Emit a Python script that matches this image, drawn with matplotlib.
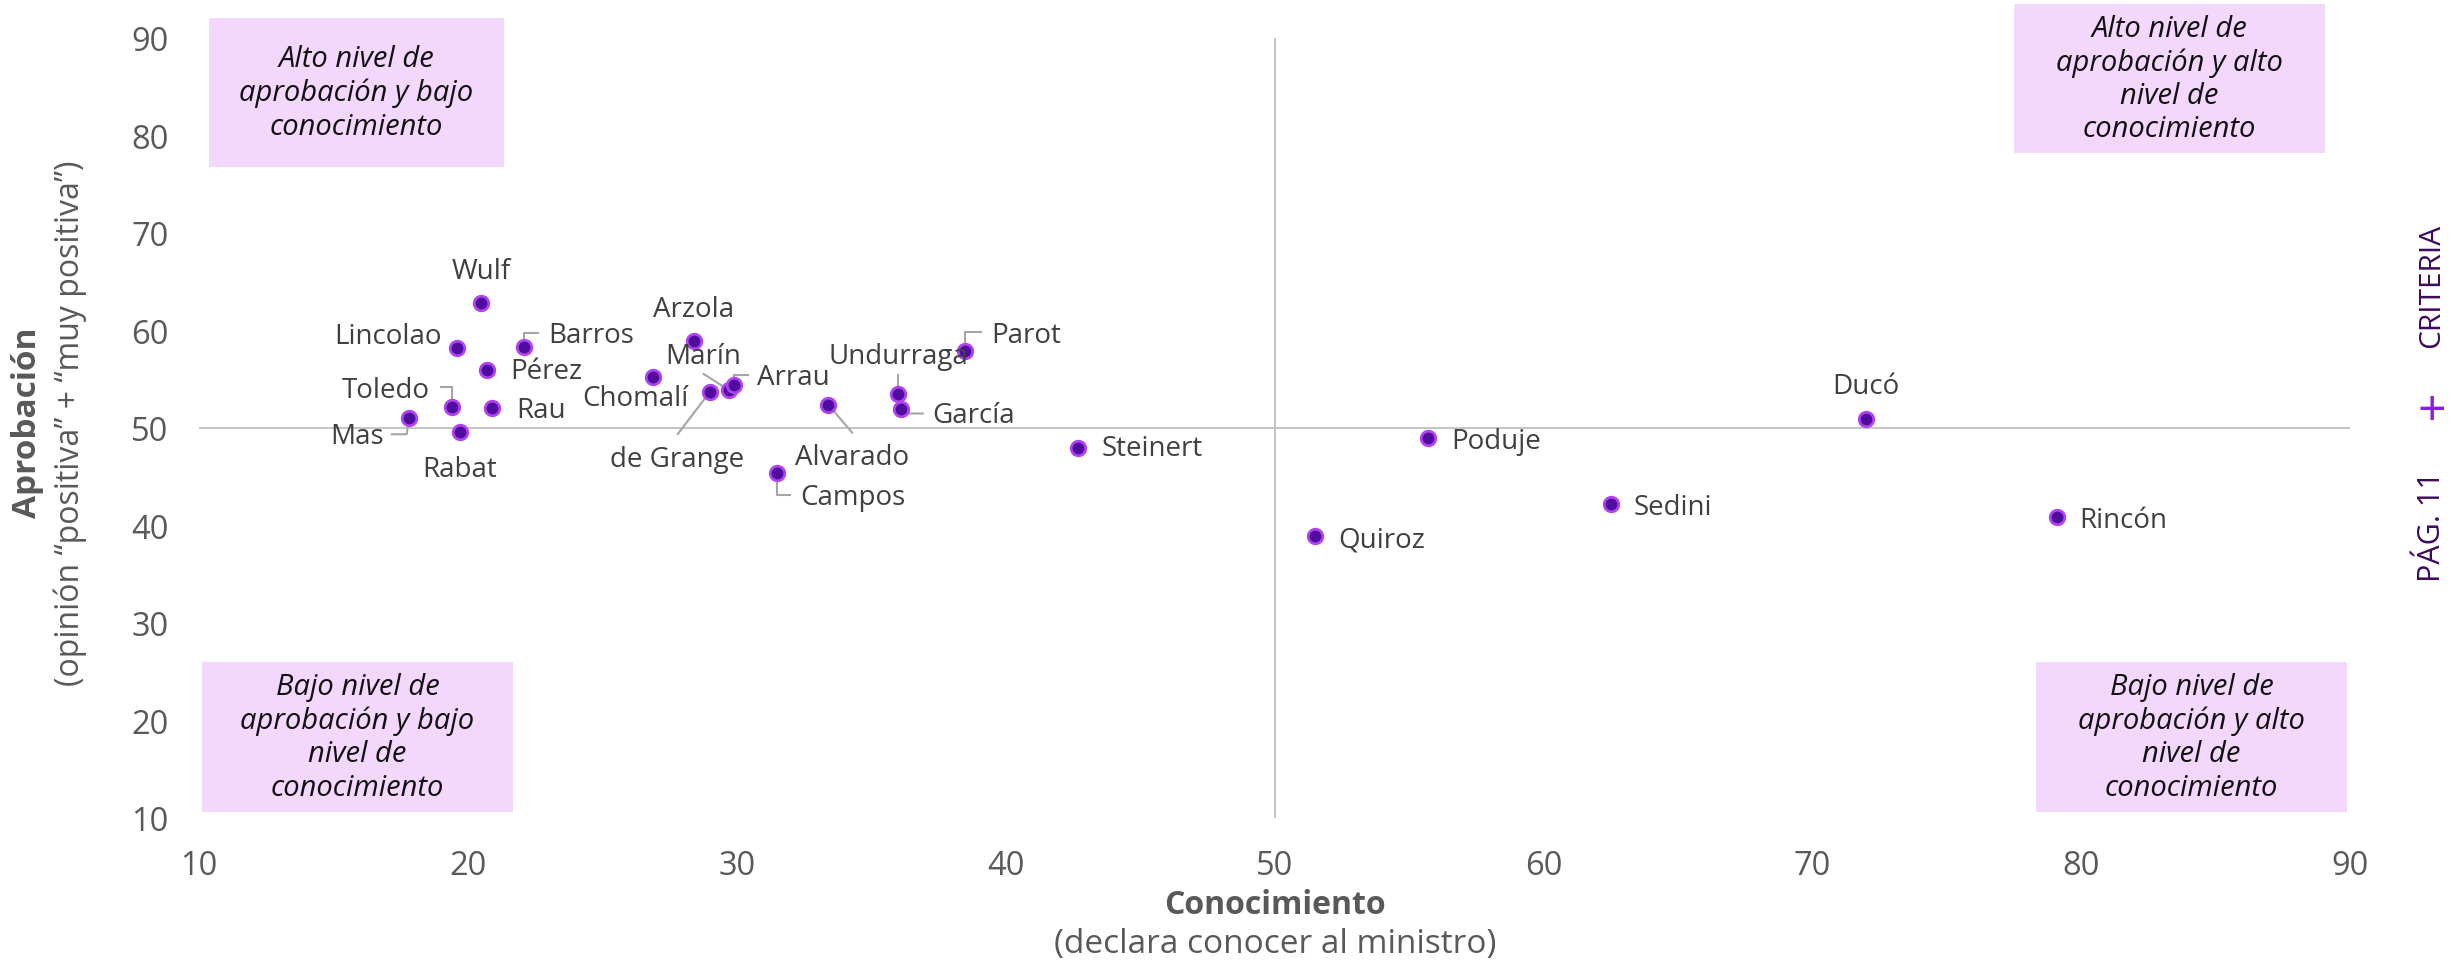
import numpy as np
import matplotlib.pyplot as plt
from matplotlib.patches import Rectangle
from matplotlib.transforms import IdentityTransform

plt.rcParams['font.family'] = ['Open Sans', 'DejaVu Sans']

# datos: conocimiento (x) y aprobación (y) por ministro
ministros = ["Wulf", "Lincolao", "Barros", "Pérez", "Toledo", "Rau", "Mas", "Rabat",
             "Arzola", "Chomalí", "Marín", "Arrau", "de Grange", "Alvarado", "Campos",
             "Undurraga", "García", "Parot", "Steinert", "Quiroz", "Poduje", "Sedini",
             "Ducó", "Rincón"]
conocimiento = [20.5, 19.6, 22.1, 20.7, 19.4, 20.9, 17.8, 19.7,
                28.4, 26.9, 29.7, 29.9, 29.0, 33.4, 31.5,
                36.0, 36.1, 38.5, 42.7, 51.5, 55.7, 62.5,
                72.0, 79.1]
aprobacion = [62.8, 58.2, 58.3, 56.0, 52.2, 52.1, 51.0, 49.6,
              58.9, 55.2, 53.9, 54.4, 53.7, 52.4, 45.4,
              53.5, 52.0, 57.9, 48.0, 38.9, 49.0, 42.2,
              50.9, 40.9]

x_ticks = [10, 20, 30, 40, 50, 60, 70, 80, 90]
y_ticks = [10, 20, 30, 40, 50, 60, 70, 80, 90]

# posicion de etiquetas (pixeles, y hacia abajo) y lineas guia
etiquetas = {
    "Wulf": (0, -32, "center", None),
    "Lincolao": (-15, -12, "right", None),
    "Barros": (24, -12, "left", [(0, 0), (0, -14), (14, -14)]),
    "Pérez": (24, 2, "left", None),
    "Toledo": (-22, -17, "right", [(0, 0), (0, -20), (-11, -20)]),
    "Rau": (24, 2, "left", None),
    "Mas": (-25, 18, "right", [(0, 0), (-2, 16), (-17, 16)]),
    "Rabat": (0, 37, "center", None),
    "Arzola": (0, -32, "center", None),
    "Chomalí": (-18, 21, "center", None),
    "Marín": (-25, -34, "center", [(0, 0), (-25, -16)]),
    "Arrau": (23, -8, "left", [(0, 0), (0, -10), (14, -10)]),
    "de Grange": (-33, 67, "center", [(0, 0), (-32, 42)]),
    "Alvarado": (24, 52, "center", [(0, 0), (24, 28)]),
    "Campos": (23, 24, "left", [(0, 0), (0, 22), (13, 22)]),
    "Undurraga": (0, -38, "center", [(0, 0), (0, -19)]),
    "García": (31, 7, "left", [(0, 0), (8, 5), (22, 5)]),
    "Parot": (26, -16, "left", [(0, 0), (0, -19), (16, -19)]),
    "Steinert": (23, 1, "left", None),
    "Quiroz": (23, 3, "left", None),
    "Poduje": (23, 3, "left", None),
    "Sedini": (23, 3, "left", None),
    "Ducó": (0, -33, "center", None),
    "Rincón": (22, 3, "left", None),
}

W, H = 2458, 962
fig = plt.figure(figsize=(W / 100, H / 100), dpi=100)
ax = fig.add_axes([199 / W, 1 - 819 / H, (2350 - 199) / W, (819 - 39) / H])

ax.set_xlim(10, 90)
ax.set_ylim(10, 90)
ax.set_xticks(x_ticks)
ax.set_yticks(y_ticks)
ax.tick_params(length=0, labelsize=23.5, labelcolor='#595959')
ax.tick_params(axis='x', pad=22)
ax.tick_params(axis='y', pad=22)
for s in ax.spines.values():
    s.set_visible(False)

ax.axhline(50, color='#BFBFBF', lw=1.3, zorder=1)
ax.axvline(50, color='#BFBFBF', lw=1.3, zorder=1)

ax.scatter(conocimiento, aprobacion, s=110, c='#500C9E', edgecolors='#B044F0',
           linewidths=2, zorder=4)

for nombre, xv, yv in zip(ministros, conocimiento, aprobacion):
    dx, dy, ha, guia = etiquetas[nombre]
    ax.annotate(nombre, (xv, yv), xytext=(dx, -dy), textcoords='offset pixels',
                ha=ha, va='center', fontsize=20, color='#404040', zorder=5)
    if guia:
        px, py = ax.transData.transform((xv, yv))
        gx = [px + g[0] for g in guia]
        gy = [py - g[1] for g in guia]
        ax.plot(gx, gy, color='#A6A6A6', lw=1.5, transform=IdentityTransform(),
                zorder=3, clip_on=False)

# cuadros de cuadrantes
cuadros = [
    ((209, 19, 504, 168), "Alto nivel de\naprobación y bajo\nconocimiento"),
    ((2014, 5, 2325, 154), "Alto nivel de\naprobación y alto\nnivel de\nconocimiento"),
    ((202, 663, 513, 813), "Bajo nivel de\naprobación y bajo\nnivel de\nconocimiento"),
    ((2036, 663, 2347, 813), "Bajo nivel de\naprobación y alto\nnivel de\nconocimiento"),
]
for (x0, y0, x1, y1), texto in cuadros:
    fig.patches.append(Rectangle((x0 / W, 1 - y1 / H), (x1 - x0) / W, (y1 - y0) / H,
                                 transform=fig.transFigure, facecolor='#F3D7FC',
                                 edgecolor='none', zorder=0))
    fig.text((x0 + x1) / 2 / W, 1 - (y0 + y1) / 2 / H, texto, ha='center', va='center',
             fontsize=21, style='italic', color='#111111', linespacing=1.2)

# titulos de ejes
fig.text(1275 / W, 1 - 906 / H, "Conocimiento", ha='center', va='center',
         fontsize=23, weight='bold', color='#595959')
fig.text(1275 / W, 1 - 945 / H, "(declara conocer al ministro)", ha='center', va='center',
         fontsize=24, color='#595959')
fig.text(28 / W, 1 - 423 / H, "Aprobación", ha='center', va='center', rotation=90,
         fontsize=24, weight='bold', color='#595959')
fig.text(70 / W, 1 - 423 / H, "(opinión “positiva” + “muy positiva”)", ha='center',
         va='center', rotation=90, fontsize=23, color='#595959')

# marca lateral
fig.text(2432 / W, 1 - 286 / H, "CRITERIA", ha='center', va='center', rotation=90,
         fontsize=21.5, color='#3D0A5C')
fig.text(2432 / W, 1 - 413 / H, "+", ha='center', va='center',
         fontsize=36, color='#8B1BE8')
fig.text(2432 / W, 1 - 527 / H, "PÁG. 11", ha='center', va='center', rotation=90,
         fontsize=22, color='#3D0A5C')

fig.savefig('out.png', dpi=100)
